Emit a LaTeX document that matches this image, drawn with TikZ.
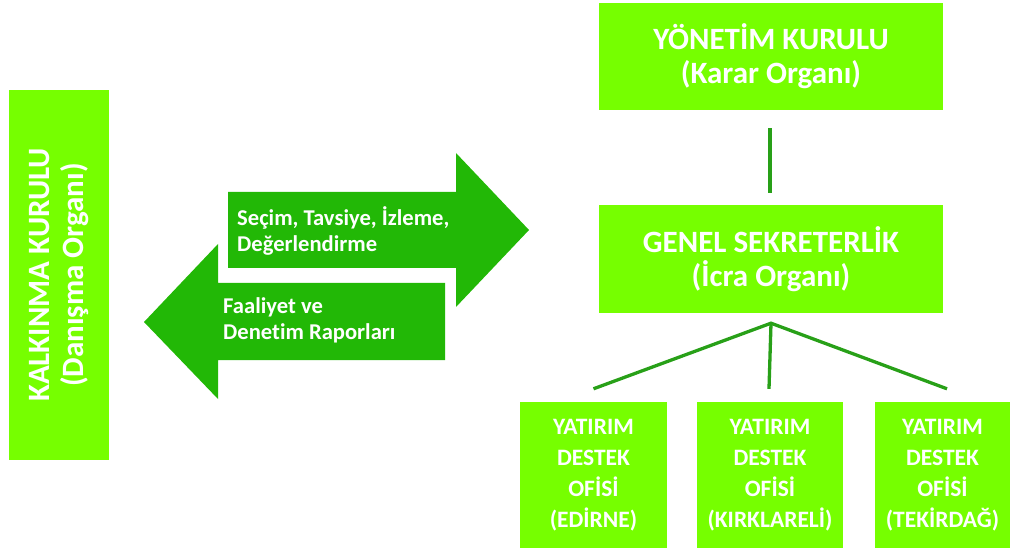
\documentclass[tikz,border=0pt]{standalone}
\usepackage{fontspec}
\setmainfont{Carlito}[RawFeature=-liga]
\usetikzlibrary{calc}
\definecolor{lime}{RGB}{118,255,0}
\definecolor{arrowgreen}{RGB}{34,184,6}
\definecolor{linegreen}{RGB}{40,160,24}
\begin{document}
\begin{tikzpicture}[x=1pt,y=-1pt,
	box/.style={fill=lime,text=white,font=\bfseries,align=center,inner sep=0pt},
	bigtext/.style={font=\fontsize{31}{34}\selectfont\bfseries},
	officetext/.style={font=\fontsize{23.5}{31}\selectfont\bfseries},
	arrowtext/.style={text=white,font=\fontsize{22.6}{26}\selectfont\bfseries,align=left,inner sep=0pt,anchor=west},
	link/.style={draw=linegreen,line width=3.3pt}]
	\useasboundingbox (0,0) rectangle (1012,553);
	% boxes
	\node[box,bigtext,rotate=90,minimum width=370pt,minimum height=100pt] (kalkinma) at (59,275) {KALKINMA KURULU\\(Danışma Organı)};
	\node[box,bigtext,minimum width=344pt,minimum height=107pt] (yonetim) at (771,56.5) {YÖNETİM KURULU\\(Karar Organı)};
	\node[box,bigtext,minimum width=344pt,minimum height=108pt] (genel) at (771,259) {GENEL SEKRETERLİK\\(İcra Organı)};
	\node[box,officetext,minimum width=147pt,minimum height=146pt] (edirne) at (593.5,475) {YATIRIM\\DESTEK\\OFİSİ\\(EDİRNE)};
	\node[box,officetext,minimum width=146pt,minimum height=146pt] (kirklareli) at (770,475) {YATIRIM\\DESTEK\\OFİSİ\\(KIRKLARELİ)};
	\node[box,officetext,minimum width=135pt,minimum height=146pt] (tekirdag) at (942.5,475) {YATIRIM\\DESTEK\\OFİSİ\\(TEKİRDAĞ)};
	% arrows
	\fill[arrowgreen] (228,192) -- (456,192) -- (456,153) -- (529,230) -- (456,307) -- (456,268) -- (228,268) -- cycle;
	\fill[arrowgreen] (445,283) -- (218,283) -- (218,244) -- (144,322) -- (218,399) -- (218,360) -- (445,360) -- cycle;
	\node[arrowtext] (secim) at (237,231) {Seçim, Tavsiye, İzleme,\\Değerlendirme};
	\node[arrowtext] (faaliyet) at (223,320) {Faaliyet ve\\Denetim Raporları};
	% connectors
	\draw[link] ($(yonetim.south)+(-1,18)$) -- ($(genel.north)+(-1,-12)$);
	\coordinate (apex) at ($(genel.south)+(0,10)$);
	\draw[link] ($(edirne.north)+(0,-13)$) -- (apex) -- ($(tekirdag.north)+(4.5,-13)$);
	\draw[link] (apex) -- ($(kirklareli.north)+(-1,-13)$);
\end{tikzpicture}
\end{document}
